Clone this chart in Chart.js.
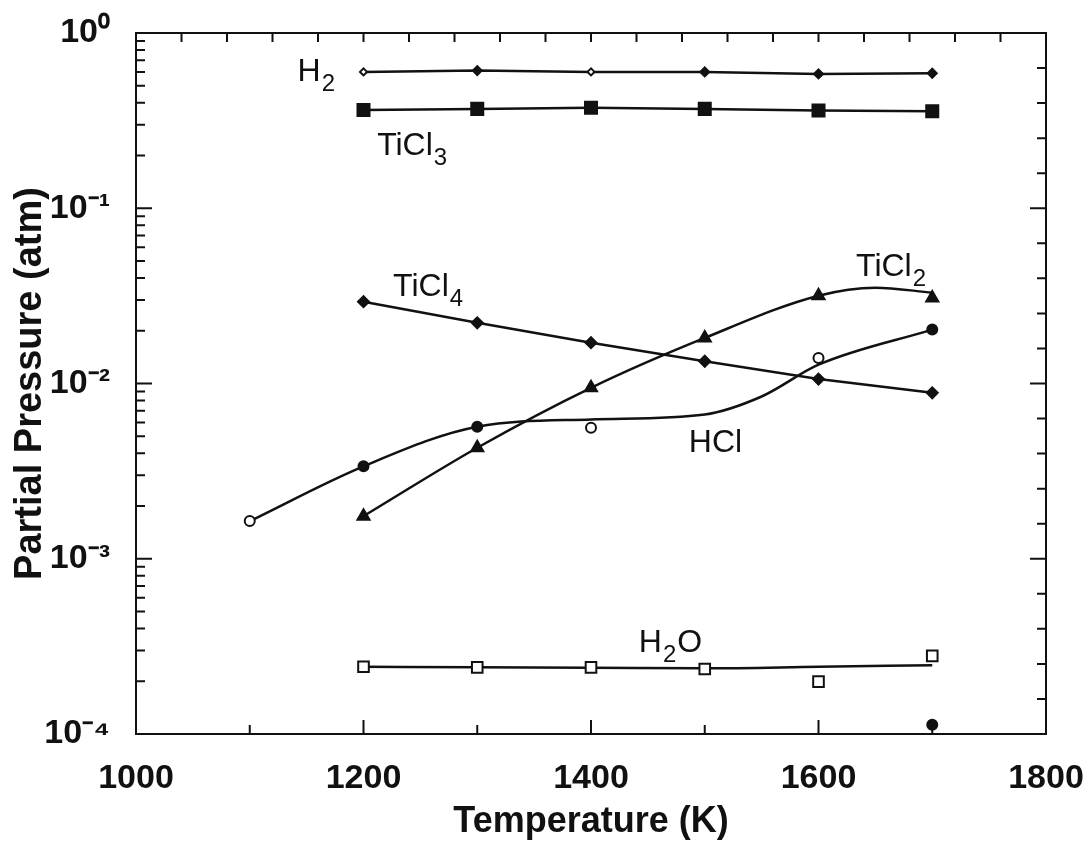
<!DOCTYPE html>
<html>
<head>
<meta charset="utf-8">
<script src="https://cdn.jsdelivr.net/npm/chart.js@4"></script>
<style>
html, body { margin: 0; padding: 0; background: #fff; }
</style>
</head>
<body>
<canvas id="pp" width="1089" height="848"></canvas>
<script>
// values (atm)
const temps = [1200, 1300, 1400, 1500, 1600, 1700];
const h2 = [0.60, 0.61, 0.60, 0.60, 0.584, 0.589];
const h2Open = [true, false, true, false, false, false];
const ticl3 = [0.364, 0.369, 0.375, 0.369, 0.361, 0.358];
const ticl4 = [0.0293, 0.0222, 0.0171, 0.0134, 0.0106, 0.00885];
const ticl2 = [0.00175, 0.0043, 0.00945, 0.0182, 0.0317, 0.0308];
const ticl2CurveT = [1200, 1300, 1400, 1500, 1600, 1650, 1700];
const ticl2Curve = [0.00175, 0.0043, 0.00945, 0.0182, 0.0317, 0.0352, 0.033];
const hclT = [1100, 1200, 1300, 1400, 1600, 1700];
const hcl = [0.00164, 0.00337, 0.00567, 0.00559, 0.0140, 0.0203];
const hclOpen = [true, false, false, true, true, false];
const hclCurveT = [1100, 1200, 1300, 1400, 1500, 1550, 1600, 1700];
const hclCurve = [0.00164, 0.00337, 0.00567, 0.00624, 0.00666, 0.00843, 0.0128, 0.0203];
const h2o = [2.42e-4, 2.40e-4, 2.40e-4, 2.35e-4, 1.99e-4, 2.79e-4];
const h2oCurve = [2.42e-4, 2.40e-4, 2.39e-4, 2.37e-4, 2.42e-4, 2.47e-4];
const extraT = [1700];
const extra = [1.13e-4];

// curve labels: text, subscript, trailing text, anchor (K, atm) at baseline
const labelMain = ['H', 'TiCl', 'TiCl', 'TiCl', 'HCl', 'H'];
const labelSub = ['2', '3', '4', '2', '', '2'];
const labelTail = ['', '', '', '', '', 'O'];
const labelT = [1142, 1212, 1226, 1633, 1486, 1442];
const labelP = [0.532, 0.2013, 0.0314, 0.0412, 0.00404, 2.93e-4];

const INK = '#111';
const FONT = '"Liberation Sans", Arial, sans-serif';
const sup = { '0': '\u2070', '1': '\u00b9', '2': '\u00b2', '3': '\u00b3', '4': '\u2074', '-': '\u207b' };

function pts(xs, ys) {
  return xs.map((t, i) => ({ x: t, y: ys[i] }));
}

const frame = {
  id: 'frame',
  afterDraw(chart) {
    const { ctx, chartArea: a, scales: { x, y } } = chart;
    ctx.save();
    ctx.strokeStyle = INK;
    ctx.lineWidth = 2;
    ctx.strokeRect(a.left, a.top, a.right - a.left, a.bottom - a.top);
    ctx.beginPath();
    for (let t = 1100; t < 1800; t += 100) {
      const px = x.getPixelForValue(t);
      const len = t % 200 === 0 ? 14 : 9;
      ctx.moveTo(px, a.bottom);
      ctx.lineTo(px, a.bottom - len);
    }
    for (let t = 1040; t < 1800; t += 40) {
      const px = x.getPixelForValue(t);
      ctx.moveTo(px, a.top);
      ctx.lineTo(px, a.top + 9);
    }
    for (let e = -4; e < 0; e++) {
      for (let m = 1; m < 10; m++) {
        if (e === -4 && m === 1) continue;
        const py = y.getPixelForValue(m * Math.pow(10, e));
        ctx.moveTo(a.left, py);
        ctx.lineTo(a.left + (m === 1 ? 16 : 9), py);
      }
    }
    for (let k = 1; k < 20; k++) {
      const py = y.getPixelForValue(Math.pow(10, -4 + k * 0.2));
      ctx.moveTo(a.right, py);
      ctx.lineTo(a.right - (k % 5 === 0 ? 16 : 9), py);
    }
    ctx.stroke();

    ctx.fillStyle = INK;
    ctx.textBaseline = 'alphabetic';
    ctx.textAlign = 'left';
    for (let i = 0; i < labelMain.length; i++) {
      let px = x.getPixelForValue(labelT[i]);
      const py = y.getPixelForValue(labelP[i]);
      ctx.font = '32px ' + FONT;
      ctx.fillText(labelMain[i], px, py);
      px += ctx.measureText(labelMain[i]).width + 1;
      if (labelSub[i]) {
        ctx.font = '24px ' + FONT;
        ctx.fillText(labelSub[i], px, py + 10);
        px += ctx.measureText(labelSub[i]).width + 1;
      }
      if (labelTail[i]) {
        ctx.font = '32px ' + FONT;
        ctx.fillText(labelTail[i], px, py);
      }
    }
    ctx.restore();
  }
};

const marker = (data, style, radius, fill) => ({
  data: data,
  showLine: false,
  pointStyle: style,
  pointRadius: radius,
  pointBorderColor: INK,
  pointBorderWidth: 2,
  pointBackgroundColor: fill
});

const curve = (data, smooth) => ({
  data: data,
  showLine: true,
  pointRadius: 0,
  borderColor: INK,
  borderWidth: 2.5,
  cubicInterpolationMode: smooth ? 'monotone' : 'default',
  tension: 0
});

new Chart(document.getElementById('pp'), {
  type: 'scatter',
  data: {
    datasets: [
      marker(pts(temps, h2), 'rectRot', h2Open.map(o => o ? 3.5 : 4.5), h2Open.map(o => o ? '#fff' : INK)),
      marker(pts(temps, ticl3), 'rect', 8.5, INK),
      marker(pts(temps, ticl4), 'rectRot', 5.5, INK),
      marker(pts(temps, ticl2), 'triangle', 7, INK),
      marker(pts(hclT, hcl), 'circle', 5, hclOpen.map(o => o ? '#fff' : INK)),
      marker(pts(temps, h2o), 'rect', 7.5, '#fff'),
      marker(pts(extraT, extra), 'circle', 5, INK),
      curve(pts(temps, h2), false),
      curve(pts(temps, ticl3), false),
      curve(pts(temps, ticl4), false),
      curve(pts(ticl2CurveT, ticl2Curve), true),
      curve(pts(hclCurveT, hclCurve), true),
      curve(pts(temps, h2oCurve), true)
    ]
  },
  options: {
    responsive: false,
    animation: false,
    events: [],
    layout: { padding: { top: 33, right: 43, left: 0, bottom: 0 } },
    plugins: { legend: { display: false }, tooltip: { enabled: false } },
    scales: {
      x: {
        type: 'linear',
        min: 1000,
        max: 1800,
        grid: { display: false },
        border: { display: false },
        ticks: { stepSize: 200, color: INK, padding: 16, maxRotation: 0,
          font: { family: FONT, size: 34, weight: 'bold' },
          callback(v) { return String(v); } },
        title: { display: true, text: 'Temperature (K)', color: INK,
          padding: { top: 4, bottom: 4 },
          font: { family: FONT, size: 36, weight: 'bold' } },
        afterFit(s) { s.height = 114; s.paddingLeft = 0; s.paddingRight = 0; }
      },
      y: {
        type: 'logarithmic',
        min: 1e-4,
        max: 1,
        grid: { display: false },
        border: { display: false },
        ticks: {
          autoSkip: false,
          color: INK,
          padding: 18,
          font: { family: FONT, size: 34, weight: 'bold' },
          callback(v) {
            const e = Math.log10(v);
            if (Math.abs(e - Math.round(e)) > 1e-9) return null;
            return '10' + String(Math.round(e)).split('').map(c => sup[c]).join('');
          }
        },
        title: { display: true, text: 'Partial Pressure (atm)', color: INK,
          padding: { top: 8, bottom: 0 },
          font: { family: FONT, size: 38, weight: 'bold' } },
        afterFit(s) { s.width = 136; s.paddingTop = 0; s.paddingBottom = 0; }
      }
    }
  },
  plugins: [frame]
});
</script>
</body>
</html>
